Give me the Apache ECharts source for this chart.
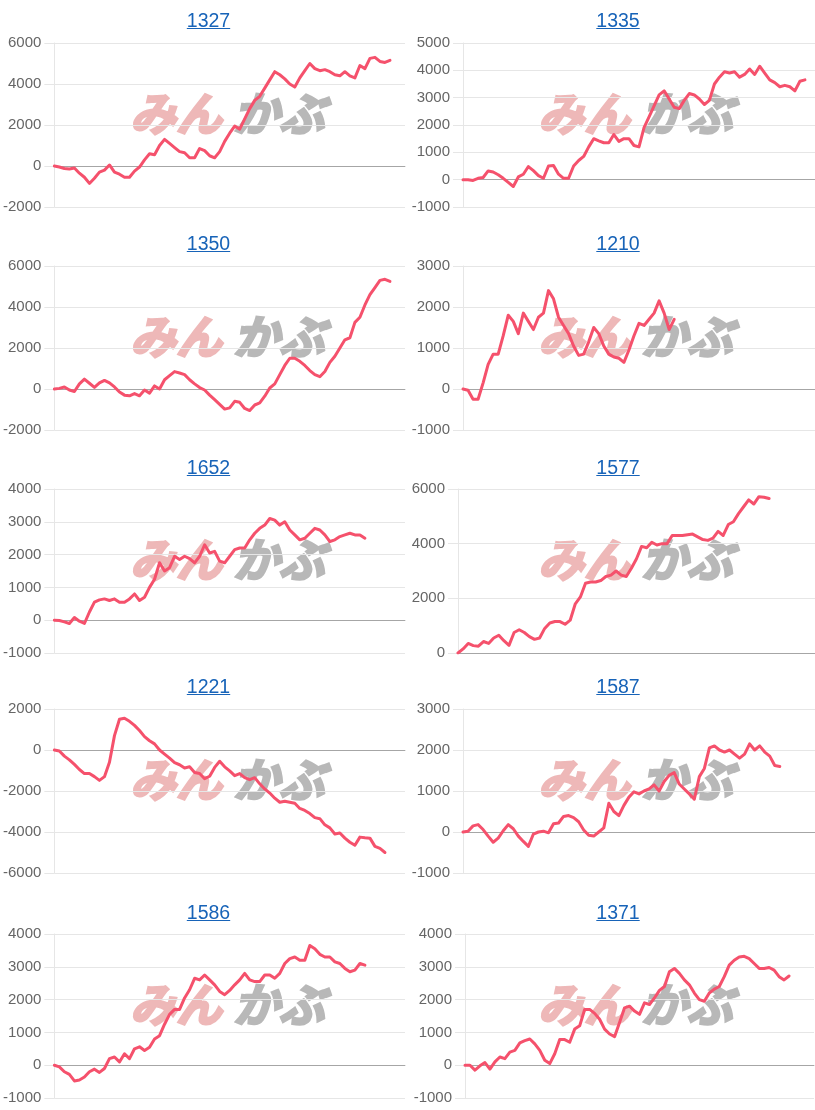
<!DOCTYPE html>
<html>
<head>
<meta charset="utf-8">
<script src="https://cdn.jsdelivr.net/npm/echarts@6/dist/echarts.min.js"></script>
<style>
  html, body { margin: 0; padding: 0; background: #fff; }
  #wrap { position: relative; width: 815px; height: 1110px; overflow: hidden; }
  #chart { position: absolute; left: 0; top: 0; width: 815px; height: 1110px; }
  .ttl { position: absolute; transform: translateX(-50%); font-family: "Liberation Sans", Arial, sans-serif;
         font-size: 19.5px; line-height: 20px; color: #1763b8; text-decoration: underline; white-space: nowrap; }
</style>
</head>
<body>
<div id="wrap"><div id="chart"></div></div>
<script>
// ---- data ----
const titles = ['1327', '1335', '1350', '1210', '1652', '1577', '1221', '1587', '1586', '1371'];
const xCategories = Array.from({ length: 71 }, (_, i) => String(i + 1));

const s1327 = [0, -50, -120, -150, -100, -350, -550, -850, -600, -300, -200, 50, -300, -400, -550, -550, -250, -50, 300, 600,
  550, 1000, 1300, 1100, 900, 700, 650, 400, 400, 850, 750, 500, 400, 700, 1200, 1600, 1950, 1800, 2300, 2800,
  3200, 3400, 3800, 4200, 4600, 4450, 4250, 4000, 3850, 4300, 4650, 5000, 4750, 4650, 4700, 4600, 4450, 4400, 4600, 4400,
  4300, 4900, 4750, 5250, 5300, 5100, 5050, 5150];
const s1335 = [0, 0, -30, 50, 80, 320, 280, 180, 50, -100, -250, 100, 200, 480, 330, 150, 50, 500, 520, 200,
  50, 50, 500, 700, 850, 1200, 1500, 1420, 1350, 1350, 1650, 1400, 1500, 1500, 1250, 1200, 1900, 2300, 2700, 3100,
  3250, 2950, 2650, 2600, 2900, 3150, 3100, 2950, 2750, 2900, 3500, 3750, 3950, 3900, 3950, 3750, 3850, 4050, 3850, 4150,
  3900, 3650, 3550, 3400, 3450, 3400, 3250, 3600, 3650];
const s1350 = [0, 30, 100, -50, -120, 250, 480, 280, 80, 300, 420, 300, 100, -150, -300, -330, -220, -330, -50, -200,
  150, 0, 450, 650, 850, 780, 700, 450, 250, 70, -50, -300, -520, -750, -980, -920, -600, -650, -950, -1050,
  -780, -680, -350, 50, 250, 700, 1150, 1500, 1500, 1350, 1150, 900, 700, 600, 850, 1300, 1600, 2000, 2400, 2500,
  3250, 3500, 4100, 4600, 4950, 5300, 5350, 5250];
const s1210 = [0, -30, -250, -250, 150, 600, 850, 850, 1300, 1800, 1650, 1350, 1850, 1650, 1450, 1750, 1850, 2400, 2200, 1750,
  1550, 1350, 1050, 820, 850, 1150, 1500, 1350, 1050, 850, 780, 750, 650, 950, 1300, 1600, 1550, 1700, 1850, 2150,
  1850, 1450, 1700];
const s1652 = [0, -10, -50, -100, 80, -30, -100, 250, 550, 620, 650, 600, 650, 550, 550, 650, 800, 600, 700, 1000,
  1250, 1750, 1500, 1600, 1950, 1850, 1950, 1880, 1750, 1950, 2300, 2050, 2100, 1800, 1750, 1950, 2150, 2200, 2200, 2450,
  2650, 2800, 2900, 3100, 3050, 2900, 3000, 2750, 2600, 2450, 2500, 2650, 2800, 2750, 2600, 2400, 2450, 2550, 2600, 2650,
  2600, 2600, 2500];
const s1577 = [0, 150, 350, 270, 250, 420, 350, 550, 650, 450, 280, 750, 850, 750, 600, 500, 550, 900, 1100, 1150,
  1150, 1050, 1200, 1800, 2050, 2550, 2600, 2600, 2650, 2800, 2850, 3000, 2850, 2800, 3100, 3450, 3900, 3850, 4050, 3950,
  4000, 4000, 4300, 4300, 4300, 4330, 4350, 4250, 4150, 4120, 4200, 4450, 4300, 4700, 4800, 5100, 5350, 5600, 5450, 5720,
  5700, 5650];
const s1221 = [0, -50, -300, -480, -700, -950, -1150, -1150, -1300, -1480, -1300, -600, 700, 1500, 1550, 1400, 1200, 950, 650, 450,
  300, 0, -200, -400, -620, -720, -880, -820, -1100, -1150, -1400, -1280, -850, -550, -820, -1020, -1250, -1150, -1350, -1450,
  -1350, -1650, -1900, -2100, -2350, -2550, -2500, -2550, -2600, -2850, -2950, -3100, -3300, -3350, -3650, -3800, -4100, -4050, -4300, -4500,
  -4650, -4250, -4280, -4300, -4700, -4800, -5000];
const s1587 = [0, 20, 150, 180, 60, -100, -250, -150, 30, 180, 80, -100, -230, -350, -50, 0, 20, -20, 200, 220,
  380, 400, 350, 250, 50, -80, -100, 0, 100, 700, 500, 400, 650, 850, 980, 930, 1000, 1050, 1150, 1000,
  1230, 1380, 1450, 1170, 1050, 930, 800, 1350, 1550, 2050, 2100, 2000, 1950, 2000, 1900, 1800, 1900, 2150, 2000, 2100,
  1950, 1850, 1620, 1600];
const s1586 = [0, -50, -200, -280, -480, -450, -360, -200, -120, -220, -100, 200, 250, 100, 350, 200, 500, 560, 450, 550,
  800, 900, 1250, 1550, 1700, 1700, 2050, 2300, 2650, 2600, 2750, 2600, 2450, 2250, 2150, 2280, 2450, 2600, 2800, 2600,
  2550, 2550, 2750, 2750, 2650, 2800, 3100, 3250, 3300, 3200, 3200, 3650, 3550, 3380, 3300, 3300, 3150, 3100, 2950, 2850,
  2900, 3100, 3050];
const s1371 = [0, 0, -150, -20, 80, -120, 100, 250, 200, 400, 450, 680, 750, 800, 650, 450, 150, 50, 350, 780,
  780, 700, 1100, 1200, 1700, 1700, 1580, 1400, 1100, 950, 870, 1300, 1750, 1800, 1650, 1550, 1900, 1850, 2050, 2280,
  2400, 2850, 2950, 2800, 2600, 2450, 2200, 2000, 1950, 2200, 2320, 2400, 2700, 3050, 3200, 3300, 3320, 3250, 3100, 2950,
  2950, 2980, 2900, 2700, 2600, 2720];

const ticks1327 = [-2000, 0, 2000, 4000, 6000];
const ticks1335 = [-1000, 0, 1000, 2000, 3000, 4000, 5000];
const ticks1350 = [-2000, 0, 2000, 4000, 6000];
const ticks1210 = [-1000, 0, 1000, 2000, 3000];
const ticks1652 = [-1000, 0, 1000, 2000, 3000, 4000];
const ticks1577 = [0, 2000, 4000, 6000];
const ticks1221 = [-6000, -4000, -2000, 0, 2000];
const ticks1587 = [-1000, 0, 1000, 2000, 3000];
const ticks1586 = [-1000, 0, 1000, 2000, 3000, 4000];
const ticks1371 = [-1000, 0, 1000, 2000, 3000, 4000];

const seriesList = [s1327, s1335, s1350, s1210, s1652, s1577, s1221, s1587, s1586, s1371];
const tickList = [ticks1327, ticks1335, ticks1350, ticks1210, ticks1652, ticks1577, ticks1221, ticks1587, ticks1586, ticks1371];

// ---- layout ----
const rowGridTop = [43, 266, 489, 709, 934];
const rowTitleY = [19.5, 242.7, 466.7, 686.3, 911.7];
const gridH = 164;
const gridLeft = [53, 463, 53, 463, 53, 458, 53, 463, 54, 465];
const gridRight = [405, 815, 405, 815, 405, 815, 405, 815, 405, 814];

const wrap = document.getElementById('wrap');
const grids = [], xAxes = [], yAxes = [], series = [], graphics = [];
const LINE = '#f5516c';
const GRIDC = '#e6e6e6';
const WM_FONT = 'italic bold 46px "Noto Sans CJK JP", sans-serif';

titles.forEach((t, i) => {
  const row = Math.floor(i / 2), col = i % 2;
  const panelX = col * 408;
  const a = document.createElement('a');
  a.className = 'ttl';
  a.href = '#';
  a.textContent = t;
  a.style.left = (panelX + (col ? 210 : 208.5)) + 'px';
  a.style.top = (rowTitleY[row] - 10) + 'px';
  wrap.appendChild(a);

  const ticks = tickList[i];
  grids.push({ left: gridLeft[i], top: rowGridTop[row], width: gridRight[i] - gridLeft[i], height: gridH });
  xAxes.push({
    type: 'category', gridIndex: i, data: xCategories, boundaryGap: false,
    axisLine: { show: true, onZero: true, lineStyle: { color: 'rgba(0,0,0,0.28)', width: 1 } },
    axisTick: { show: false }, axisLabel: { show: false }, splitLine: { show: false }
  });
  yAxes.push({
    type: 'value', gridIndex: i,
    min: ticks[0], max: ticks[ticks.length - 1], interval: ticks[1] - ticks[0],
    axisLine: { show: true, lineStyle: { color: GRIDC } },
    axisTick: { show: true, length: 10, lineStyle: { color: GRIDC } },
    axisLabel: { color: '#666', fontSize: 15, margin: 13, fontFamily: '"Liberation Sans", Arial, sans-serif',
                 formatter: v => String(v) },
    splitLine: { show: true, lineStyle: { color: GRIDC, width: 1 } }
  });
  series.push({
    type: 'line', xAxisIndex: i, yAxisIndex: i, data: seriesList[i],
    showSymbol: false, symbol: 'none', smooth: false, z: 5,
    lineStyle: { color: LINE, width: 3, cap: 'round', join: 'round' }
  });
  const wy = rowGridTop[row] + 71;
  graphics.push({
    type: 'text', z: -10, x: panelX + 176, y: wy,
    style: { text: 'みん', font: WM_FONT, fill: '#eeb8b8', stroke: '#eeb8b8', lineWidth: 2.5,
             align: 'center', verticalAlign: 'middle' }
  });
  graphics.push({
    type: 'text', z: -10, x: panelX + 279, y: wy,
    style: { text: 'かぶ', font: WM_FONT, fill: '#b8b8b8', stroke: '#b8b8b8', lineWidth: 2.5,
             align: 'center', verticalAlign: 'middle' }
  });
});

const chart = echarts.init(document.getElementById('chart'), null, { renderer: 'canvas' });
chart.setOption({
  animation: false,
  backgroundColor: '#fff',
  grid: grids, xAxis: xAxes, yAxis: yAxes, series: series,
  graphic: { elements: graphics }
});
</script>
</body>
</html>
